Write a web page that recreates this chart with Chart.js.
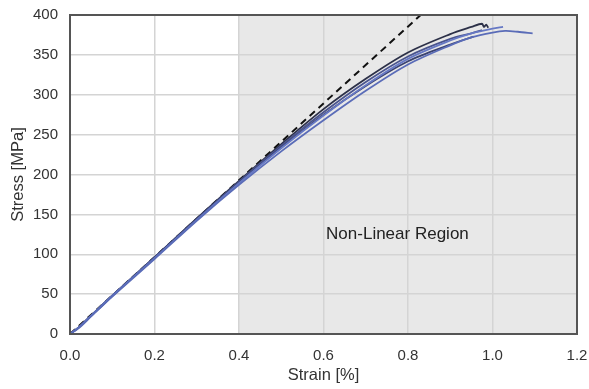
<!DOCTYPE html>
<html><head><meta charset="utf-8">
<script src="https://cdn.jsdelivr.net/npm/chart.js@4/dist/chart.umd.min.js"></script>
<style>html,body{margin:0;padding:0;background:#fff}#wrap{width:589px;height:389px}</style>
</head><body><div id="wrap"><canvas id="c" width="589" height="389"></canvas></div>
<script>
// Strain [%] / Stress [MPa] samples per specimen
const strain1 = [0,0.02,0.05,0.1,0.2,0.3,0.4,0.5,0.6,0.7,0.8,0.9,0.95,0.975,0.98,0.985,0.99];
const stress1 = [0,8,23,48,96,145,192,238,282,320,353,376,385,389,385,388,384];
const strain2 = [0,0.02,0.05,0.1,0.2,0.3,0.4,0.5,0.6,0.7,0.8,0.9,0.955];
const stress2 = [0,8,23,48,96,144,190,234,275,311,342,363,373];
const strain3 = [0,0.02,0.05,0.1,0.2,0.3,0.4,0.5,0.6,0.7,0.8,0.9,0.95,1.0,1.025];
const stress3 = [0,8,23,48,95,143,189,233,274,312,345,368,377,383,385];
const strain4 = [0,0.02,0.05,0.1,0.2,0.3,0.4,0.5,0.6,0.7,0.8,0.9,0.95,1.0,1.03,1.06,1.095];
const stress4 = [0,7,22,47,94,142,187,229,268,305,338,362,372,378,380,379,377];
const strain5 = [0,0.02,0.05,0.1,0.2,0.3,0.4,0.5,0.6,0.7,0.8,0.9,0.95,0.975];
const stress5 = [0,8,23,48,96,144,191,236,278,316,348,370,377,381];
const linStrain = [0,0.83];
const linStress = [0,400];
const xTicks = [0,0.2,0.4,0.6,0.8,1.0,1.2];
const yTicks = [0,50,100,150,200,250,300,350,400];
const regionStart = 0.4;
const regionLabel = "Non-Linear Region";
const regionLabelPos = {x:0.775, y:125};

const FONT = '"Liberation Sans", Arial, sans-serif';
const toPts = (xs, ys) => xs.map((x,i)=>({x:x,y:ys[i]}));

const shadePlugin = {
  id:'shade',
  beforeDraw(chart){
    const {ctx, chartArea:a, scales:{x}} = chart;
    ctx.save();
    ctx.fillStyle = '#e8e8e8';
    const x0 = x.getPixelForValue(regionStart);
    ctx.fillRect(x0, a.top, a.right - x0, a.bottom - a.top);
    ctx.restore();
  },
  afterDatasetsDraw(chart){
    const {ctx, chartArea:a, scales:{x,y}} = chart;
    ctx.save();
    ctx.font = '17px ' + FONT;
    ctx.fillStyle = '#222';
    ctx.textAlign = 'center';
    ctx.textBaseline = 'middle';
    ctx.fillText(regionLabel, x.getPixelForValue(regionLabelPos.x), y.getPixelForValue(regionLabelPos.y));
    ctx.strokeStyle = '#555';
    ctx.lineWidth = 2;
    ctx.strokeRect(a.left, a.top, a.right - a.left, a.bottom - a.top);
    ctx.restore();
  }
};

const mk = (xs, ys, color) => ({data: toPts(xs, ys), borderColor: color, borderWidth: 1.8, pointRadius: 0, tension: 0.3, fill: false, showLine:true});

new Chart(document.getElementById('c'), {
  type: 'scatter',
  data: {datasets: [
    mk(strain4, stress4, '#5a6cb8'),
    mk(strain3, stress3, '#6678c4'),
    mk(strain2, stress2, '#3a4270'),
    mk(strain5, stress5, '#4a548e'),
    mk(strain1, stress1, '#2c3048'),
    {data: toPts(linStrain, linStress), borderColor:'#111', borderWidth:2, borderDash:[7,5], pointRadius:0, showLine:true, fill:false}
  ]},
  options: {
    responsive:false, animation:false,
    layout:{padding:{top:15, right:12, left:0, bottom:0}},
    plugins:{legend:{display:false}, tooltip:{enabled:false}},
    scales:{
      x:{type:'linear', min:0, max:1.2,
        afterBuildTicks(s){ s.ticks = xTicks.map(v=>({value:v})); },
        afterFit(s){ s.height = 55; },
        ticks:{color:'#333', font:{size:15, family:FONT}, padding:0, callback:v=>Number(v).toFixed(1)},
        grid:{color:'#d4d4d4', lineWidth:1.5, drawTicks:true, tickLength:13, tickColor:'rgba(0,0,0,0)'},
        border:{display:false},
        title:{display:true, text:'Strain [%]', color:'#333', font:{size:16.5, family:FONT}, padding:{top:0}}
      },
      y:{type:'linear', min:0, max:400,
        afterBuildTicks(s){ s.ticks = yTicks.map(v=>({value:v})); },
        afterFit(s){ s.width = 70; },
        ticks:{color:'#333', font:{size:15, family:FONT}, padding:0},
        grid:{color:'#d4d4d4', lineWidth:1.5, drawTicks:true, tickLength:12, tickColor:'rgba(0,0,0,0)'},
        border:{display:false},
        title:{display:true, text:'Stress [MPa]', color:'#333', font:{size:16.5, family:FONT}, padding:{top:9,bottom:0}}
      }
    }
  },
  plugins:[shadePlugin]
});
</script></body></html>
